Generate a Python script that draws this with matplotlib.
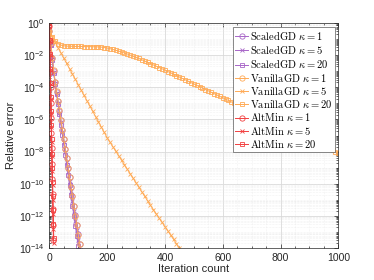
import numpy as np
import matplotlib
matplotlib.use("Agg")
import matplotlib.pyplot as plt
from matplotlib.ticker import LogLocator, FixedLocator, MultipleLocator, NullFormatter

plt.rcParams['font.family'] = ['Liberation Sans', 'DejaVu Sans']
plt.rcParams['mathtext.fontset'] = 'cm'

# ---------------- data (log10 of relative error) -------------
it_scaled = list(range(0, 115, 5))
scaled_k1 = [-0.5, -1.3, -2.2, -3.0, -3.7, -4.29, -4.88, -5.47, -6.06, -6.65, -7.24, -7.83,
             -8.42, -9.01, -9.60, -10.19, -10.78, -11.37, -11.96, -12.55, -13.14, -13.73, -14.32]
scaled_k5 = [-0.5, -1.35, -2.25, -3.05, -3.75, -4.36, -4.97, -5.58, -6.19, -6.80, -7.41, -8.02,
             -8.63, -9.24, -9.85, -10.46, -11.07, -11.68, -12.29, -12.90, -13.51, -14.12]
scaled_k20 = [-0.5, -1.4, -2.3, -3.1, -3.8, -4.43, -5.06, -5.69, -6.32, -6.95, -7.58, -8.21,
              -8.84, -9.47, -10.10, -10.73, -11.36, -11.99, -12.62, -13.25, -13.88]

vanilla_k1 = [-0.5, -1.25, -2.15, -2.95, -3.65, -4.25, -4.84, -5.44, -6.03, -6.63, -7.22, -7.82,
              -8.41, -9.01, -9.60, -10.20, -10.79, -11.39, -11.98, -12.58, -13.17, -13.77, -14.36]

it_v5 = list(range(0, 460, 10))
vanilla_k5 = [-0.54, -0.87, -1.20, -1.53, -1.86, -2.19, -2.52, -2.85, -3.18, -3.51, -3.84,
              -4.17, -4.50, -4.83, -5.16, -5.49, -5.82, -6.15, -6.48, -6.81, -7.14,
              -7.42, -7.70, -7.98, -8.26, -8.54, -8.82, -9.10, -9.38, -9.66, -9.94,
              -10.22, -10.50, -10.78, -11.06, -11.34,
              -11.61, -11.87, -12.14, -12.40, -12.67, -12.93, -13.20, -13.46, -13.73, -13.99]

it_v20 = list(range(0, 1010, 10))
vanilla_k20 = [-0.55, -0.85, -1.10, -1.28, -1.38, -1.42,
               -1.44, -1.45, -1.45, -1.46, -1.46, -1.46, -1.47, -1.47, -1.47, -1.48, -1.48, -1.49,
               -1.50, -1.53, -1.56, -1.60, -1.65, -1.70, -1.75, -1.81, -1.87, -1.93, -2.00, -2.07,
               -2.14, -2.21, -2.29, -2.37, -2.45, -2.53, -2.61, -2.69, -2.77, -2.85, -2.93,
               -3.02, -3.10, -3.19, -3.28, -3.36, -3.45, -3.53, -3.62, -3.71, -3.79,
               -3.88, -3.96, -4.05, -4.14, -4.22, -4.31, -4.39, -4.48, -4.57, -4.65,
               -4.74, -4.82, -4.91, -5.00, -5.08, -5.17, -5.25, -5.34, -5.43, -5.51,
               -5.60, -5.68, -5.77, -5.86, -5.94, -6.03, -6.11, -6.20, -6.29, -6.37,
               -6.46, -6.54, -6.63, -6.72, -6.80, -6.89, -6.97, -7.06, -7.15, -7.23,
               -7.32, -7.40, -7.49, -7.58, -7.66, -7.75, -7.83, -7.92, -8.01, -8.09]

it_alt = list(range(0, 16))
alt_k1 = [-0.2, -1.15, -2.1, -3.05, -4.0, -4.95, -5.9, -6.85, -7.8, -8.75, -9.7,
          -10.65, -11.6, -12.55, -13.5]
alt_k5 = [-0.2, -1.1, -2.0, -2.9, -3.8, -4.7, -5.6, -6.5, -7.4, -8.3, -9.2,
          -10.1, -11.0, -11.9, -12.8, -13.7]
alt_k20 = [-0.2, -1.08, -1.96, -2.84, -3.72, -4.6, -5.48, -6.36, -7.24, -8.12, -9.0,
           -9.88, -10.76, -11.64, -12.52, -13.4]

xticks = [0, 200, 400, 600, 800, 1000]
yticks_exp = [0, -2, -4, -6, -8, -10, -12, -14]

# ---------------- styles --------------------------------------------------------------
purple = '#A866C8'
orange = '#FFAA55'
red = '#F24040'

fig = plt.figure(figsize=(3.74, 2.80), dpi=100)
ax = fig.add_axes([0.132, 0.114, 0.7725, 0.804])

def draw(x, logy, color, marker, label, ms):
    x = np.asarray(x[:len(logy)])
    y = 10.0 ** np.asarray(logy)
    ax.plot(x, y, color=color, marker=marker, markersize=ms, markerfacecolor='none',
            markeredgewidth=0.6, linewidth=0.7, label=label, clip_on=True)

draw(it_scaled, scaled_k1, purple, 'o', r'$\mathrm{ScaledGD}\ \kappa = 1$', 3.8)
draw(it_scaled, scaled_k5, purple, 'x', r'$\mathrm{ScaledGD}\ \kappa = 5$', 3.0)
draw(it_scaled, scaled_k20, purple, 's', r'$\mathrm{ScaledGD}\ \kappa = 20$', 3.5)
draw(it_scaled, vanilla_k1, orange, 'o', r'$\mathrm{VanillaGD}\ \kappa = 1$', 3.8)
draw(it_v5, vanilla_k5, orange, 'x', r'$\mathrm{VanillaGD}\ \kappa = 5$', 3.0)
draw(it_v20, vanilla_k20, orange, 's', r'$\mathrm{VanillaGD}\ \kappa = 20$', 3.5)
draw(it_alt, alt_k1, red, 'o', r'$\mathrm{AltMin}\ \kappa = 1$', 3.8)
draw(it_alt, alt_k5, red, 'x', r'$\mathrm{AltMin}\ \kappa = 5$', 3.0)
draw(it_alt, alt_k20, red, 's', r'$\mathrm{AltMin}\ \kappa = 20$', 3.5)

ax.set_yscale('log')
ax.set_xlim(0, 1000)
ax.set_ylim(1e-14, 1e0)
ax.xaxis.set_major_locator(FixedLocator(xticks))
ax.xaxis.set_minor_locator(MultipleLocator(50))
ax.yaxis.set_major_locator(FixedLocator([10.0 ** e for e in yticks_exp]))
ax.yaxis.set_minor_locator(LogLocator(base=10, subs=np.arange(1, 10), numticks=50))
ax.yaxis.set_minor_formatter(NullFormatter())

ax.grid(True, which='major', color='#d9d9d9', linewidth=0.6)
ax.grid(True, which='minor', color='#e6e6e6', linewidth=0.4, linestyle=':')
ax.set_axisbelow(True)

ax.tick_params(which='both', direction='in', top=True, right=True, labelsize=7.5,
               colors='#262626', width=0.5)
ax.tick_params(which='major', length=3)
ax.tick_params(which='minor', length=1.5)
for s in ax.spines.values():
    s.set_color('#262626')
    s.set_linewidth(0.5)

ax.set_xlabel('Iteration count', fontsize=8, color='#262626', labelpad=1)
ax.set_ylabel('Relative error', fontsize=8, color='#262626', labelpad=2)

leg = ax.legend(loc='upper right', fontsize=7.6, handlelength=1.2, handletextpad=0.2,
                labelspacing=0.12, borderpad=0.2, borderaxespad=0.35, fancybox=False,
                framealpha=1, edgecolor='#5a5a5a')
leg.get_frame().set_linewidth(0.5)

fig.savefig('out.png', dpi=100)
